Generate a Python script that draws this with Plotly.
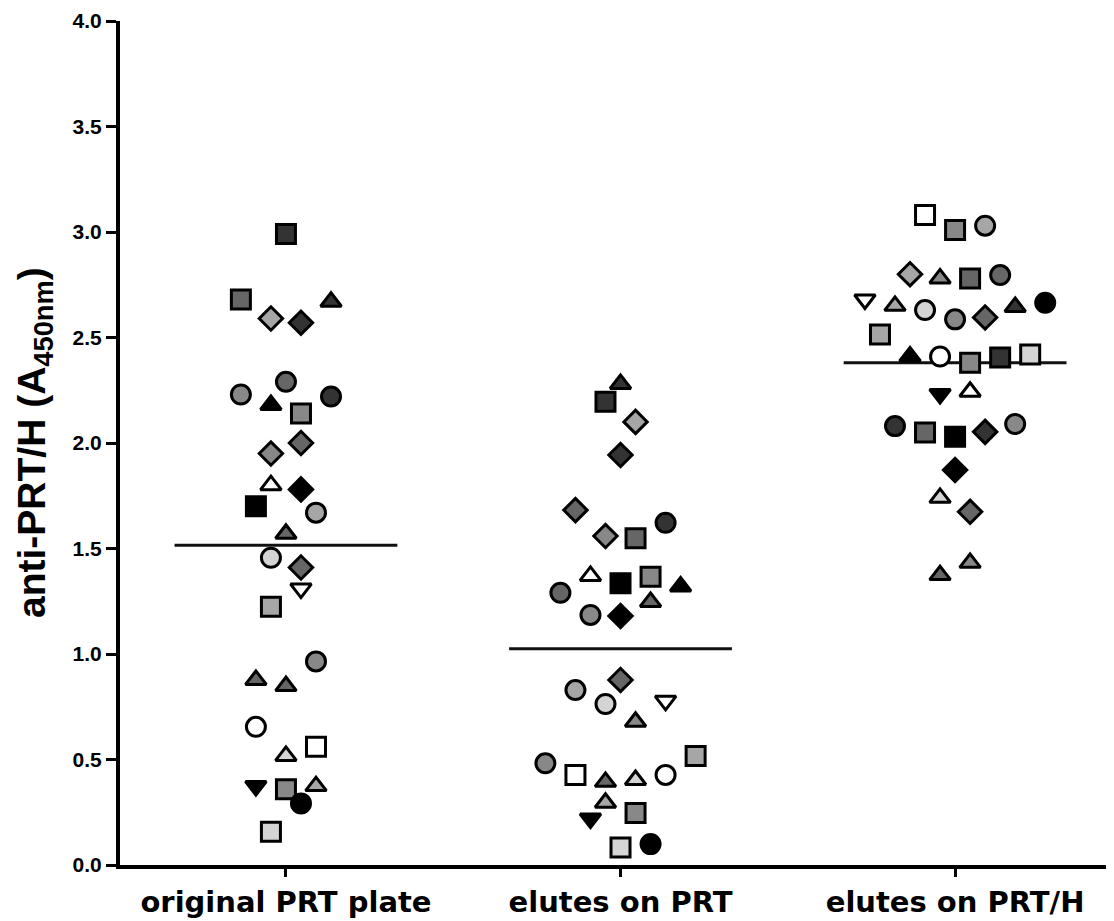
import plotly.graph_objects as go

categories = ["original PRT plate", "elutes on PRT", "elutes on PRT/H"]
mean_values = [1.515, 1.025, 2.38]

# shade codes: K black, D dark, M dark gray, G gray, L light gray, V very light, W white
g1_values = [2.99, 2.68, 2.59, 2.57, 2.67, 2.23, 2.29, 2.22, 2.18, 2.14, 1.95, 2.00, 1.80, 1.78, 1.70, 1.67,
             1.57, 1.456, 1.41, 1.31, 1.224, 0.965, 0.877, 0.848, 0.655, 0.561, 0.517, 0.374, 0.359, 0.374, 0.292, 0.158]
g1_columns = [0, -3, -1, 1, 3, -3, 0, 3, -1, 1, -1, 1, -1, 1, -2, 2,
              0, -1, 1, 1, -1, 2, -2, 0, -2, 2, 0, -2, 0, 2, 1, -1]
g1_symbols = ["square", "square", "diamond", "diamond", "triangle-up", "circle", "circle", "circle",
              "triangle-up", "square", "diamond", "diamond", "triangle-up", "diamond", "square", "circle",
              "triangle-up", "circle", "diamond", "triangle-down", "square", "circle", "triangle-up", "triangle-up",
              "circle", "square", "triangle-up", "triangle-down", "square", "triangle-up", "circle", "square"]
g1_shades = ["D", "M", "L", "D", "D", "G", "M", "D", "K", "G", "G", "M", "W", "K", "K", "L",
             "M", "V", "M", "W", "L", "G", "M", "M", "W", "W", "V", "K", "G", "L", "K", "V"]

g2_values = [2.28, 2.196, 2.10, 1.943, 1.682, 1.559, 1.548, 1.622, 1.37, 1.335, 1.366, 1.32, 1.29, 1.185, 1.18, 1.247,
             0.877, 0.829, 0.763, 0.778, 0.679, 0.482, 0.427, 0.394, 0.403, 0.427, 0.517, 0.295, 0.22, 0.247, 0.083, 0.099]
g2_columns = [0, -1, 1, 0, -3, -1, 1, 3, -2, 0, 2, 4, -4, -2, 0, 2,
              0, -3, -1, 3, 1, -5, -3, -1, 1, 3, 5, -1, -2, 1, 0, 2]
g2_symbols = ["triangle-up", "square", "diamond", "diamond", "diamond", "diamond", "square", "circle",
              "triangle-up", "square", "square", "triangle-up", "circle", "circle", "diamond", "triangle-up",
              "diamond", "circle", "circle", "triangle-down", "triangle-up", "circle", "square", "triangle-up",
              "triangle-up", "circle", "square", "triangle-up", "triangle-down", "square", "square", "circle"]
g2_shades = ["D", "D", "L", "D", "M", "G", "M", "D", "W", "K", "G", "K", "M", "G", "K", "M",
             "M", "L", "V", "W", "G", "G", "W", "M", "V", "W", "L", "L", "K", "G", "V", "K"]

g3_values = [3.08, 3.01, 3.03, 2.80, 2.78, 2.78, 2.796, 2.68, 2.65, 2.63, 2.586, 2.595, 2.645, 2.665, 2.514, 2.41,
             2.41, 2.38, 2.405, 2.42, 2.232, 2.243, 2.08, 2.05, 2.03, 2.053, 2.09, 1.872, 1.74, 1.674, 1.432, 1.374]
g3_columns = [-2, 0, 2, -3, -1, 1, 3, -6, -4, -2, 0, 2, 4, 6, -5, -3,
              -1, 1, 3, 5, -1, 1, -4, -2, 0, 2, 4, 0, -1, 1, 1, -1]
g3_symbols = ["square", "square", "circle", "diamond", "triangle-up", "square", "circle", "triangle-down",
              "triangle-up", "circle", "circle", "diamond", "triangle-up", "circle", "square", "triangle-up",
              "circle", "square", "square", "square", "triangle-down", "triangle-up", "circle", "square",
              "square", "diamond", "circle", "diamond", "triangle-up", "diamond", "triangle-up", "triangle-up"]
g3_shades = ["W", "G", "L", "L", "G", "M", "M", "W", "L", "V", "G", "M", "D", "K", "L", "K",
             "W", "G", "D", "V", "K", "W", "D", "M", "K", "D", "G", "K", "V", "M", "G", "M"]

shade_colors = {"K": "#000000", "D": "#333333", "M": "#666666", "G": "#888888",
                "L": "#a6a6a6", "V": "#d4d4d4", "W": "#ffffff"}
symbol_sizes = {"square": 19, "circle": 19, "diamond": 18, "triangle-up": 18, "triangle-down": 18}
jitter_step = 0.0449
half_mean = 0.333

groups = [
    (g1_values, g1_columns, g1_symbols, g1_shades),
    (g2_values, g2_columns, g2_symbols, g2_shades),
    (g3_values, g3_columns, g3_symbols, g3_shades),
]

fig = go.Figure()

for i, m in enumerate(mean_values):
    fig.add_trace(go.Scatter(
        x=[i - half_mean, i + half_mean], y=[m, m], mode="lines",
        line=dict(color="#111111", width=3), hoverinfo="skip", showlegend=False))

for i, (vals, cols, syms, shades) in enumerate(groups):
    fig.add_trace(go.Scatter(
        x=[i + c * jitter_step for c in cols],
        y=vals,
        mode="markers",
        cliponaxis=False,
        showlegend=False,
        marker=dict(
            symbol=syms,
            size=[symbol_sizes[s] for s in syms],
            color=[shade_colors[s] for s in shades],
            opacity=1,
            line=dict(color="#000000", width=3),
        ),
    ))

fig.update_layout(
    width=1106, height=913,
    margin=dict(l=112, r=0, t=13, b=56),
    paper_bgcolor="white", plot_bgcolor="white",
    showlegend=False,
    font=dict(family="Liberation Sans, Arial, sans-serif", color="black"),
)

fig.update_xaxes(
    range=[-0.496, 2.475], tickvals=[0, 1, 2], ticktext=categories,
    showline=True, linecolor="black", linewidth=4,
    ticks="outside", ticklen=8, tickwidth=3, tickcolor="black",
    tickfont=dict(family="DejaVu Sans, sans-serif", size=29, weight="bold", color="black"),
    showgrid=False, zeroline=False, automargin=False,
)
fig.update_yaxes(
    range=[0, 4], tickvals=[0, 0.5, 1.0, 1.5, 2.0, 2.5, 3.0, 3.5, 4.0], tickformat=".1f",
    showline=True, linecolor="black", linewidth=4,
    ticks="outside", ticklen=10, tickwidth=3, tickcolor="black",
    tickfont=dict(family="Liberation Sans, Arial, sans-serif", size=21, weight="bold", color="black"),
    showgrid=False, zeroline=False, automargin=False,
)

fig.add_annotation(
    text="<b>anti-PRT/H (A<sub>450nm</sub>)</b>", textangle=-90,
    xref="paper", yref="paper", x=0, y=0.5, xshift=-86, xanchor="center", yanchor="middle",
    showarrow=False, font=dict(family="Liberation Sans, Arial, sans-serif", size=39, color="black"),
)

fig.write_html("out.html")
